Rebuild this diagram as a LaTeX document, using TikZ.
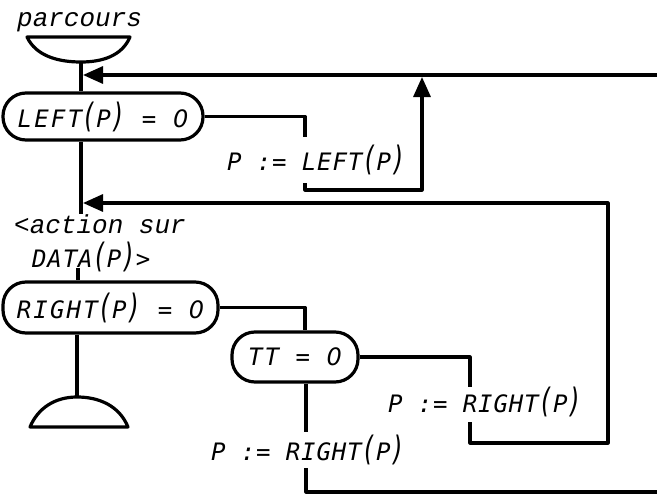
\documentclass[tikz,border=0pt]{standalone}
\usepackage{fontspec}
\usepackage{graphicx}
\usetikzlibrary{arrows.meta}
\newfontfamily\lblfamily{DejaVu Sans Mono}[LetterSpace=3.5]
\newfontfamily\boxfamily{DejaVu Sans Mono}[LetterSpace=9]
\newfontfamily\plainfamily{DejaVu Sans}
\newfontfamily\twfamily{Liberation Mono}
\newcommand{\lblfnt}{\lblfamily\itshape\fontsize{24}{27}\selectfont}
\newcommand{\boxfnt}{\boxfamily\itshape\fontsize{24}{27}\selectfont}
\newcommand{\lpar}{\scalebox{1}[1.4]{(}}
\newcommand{\rpar}{\scalebox{1}[1.4]{)}}
\newcommand{\zr}{{\plainfamily\itshape 0}}
\begin{document}
\begin{tikzpicture}[x=1pt,y=-1pt,
  flow/.style={line width=3.2pt, line join=round},
  arr/.style={-{Triangle[length=20pt,width=17pt]}},
  decision/.style={draw, line width=3.2pt, rounded corners=23pt, inner sep=0pt, font=\boxfnt},
  lbl/.style={inner sep=0pt, anchor=base west, font=\lblfnt},
  twlbl/.style={inner sep=0pt, anchor=base west}
]
\useasboundingbox (0,0) rectangle (657,496);
\clip (0,0) rectangle (657,496);

% terminals
\draw[flow] (27,37) -- (130,37) .. controls (122,56) and (102,62) .. (81,62)
  .. controls (58,62) and (36,56) .. (27,37) -- cycle;
\coordinate (topT) at (81,62);
\draw[flow] (30,427) -- (128,427) .. controls (119,405) and (98,397) .. (77,397)
  .. controls (55,397) and (38,408) .. (30,427) -- cycle;
\coordinate (botT) at (77,397);

% decision nodes
\node[decision, minimum width=200pt, minimum height=47pt] (left) at (103,116.5) {LEFT\lpar P\rpar{} = \zr};
\node[decision, minimum width=215pt, minimum height=51pt] (right) at (110.5,307.5) {RIGHT\lpar P\rpar{} = \zr};
\node[decision, minimum width=126pt, minimum height=50pt] (tt) at (295,357) {TT = \zr};

% texts
\node[twlbl, font=\twfamily\itshape\fontsize{26}{28}\selectfont] (parc) at (17,26) {parcours};
\node[twlbl, font=\twfamily\itshape\fontsize{26}{28}\selectfont] (act) at (14,233) {<action sur};
\node[lbl] (data) at (32,267) {DATA\lpar P\rpar>};
\node[lbl] (pl) at (227,170) {P := LEFT\lpar P\rpar};
\node[lbl] (pr1) at (388,412) {P := RIGHT\lpar P\rpar};
\node[lbl] (pr2) at (211,460) {P := RIGHT\lpar P\rpar};

% named coordinates
\coordinate (ta) at (83,75);
\coordinate (tr) at (657,75);
\coordinate (l1) at (305,137);
\coordinate (l2) at (305,183);
\coordinate (up) at (422,77);
\coordinate (m1) at (81,214);
\coordinate (ma) at (83,203);
\coordinate (r2) at (470,422);
\coordinate (d1) at (78,268);
\coordinate (t2) at (306,432);
\coordinate (t3) at (306,468);
\coordinate (br) at (657,492);

% connectors
\draw[flow] (topT) -- (left.north -| topT);
\draw[flow,arr] (tr) -- (ta);
\draw[flow] (left.east) -| (l1);
\draw[flow,arr] (l2) -- (305,190) -- (422,190) -- (up);
\draw[flow] (left.south -| topT) -- (m1);
\draw[flow,arr] (r2) -- (470,443) -- (608,443) -- (608,203) -- (ma);
\draw[flow] (d1) -- (right.north -| d1);
\draw[flow] (right.east) -| ([xshift=10pt]tt.north);
\draw[flow] (tt.east) -| (470,387);
\draw[flow] ([xshift=11pt]tt.south) -- (t2);
\draw[flow] (t3) -- (306,492) -- (br);
\draw[flow] (right.south -| botT) -- (botT);
\end{tikzpicture}
\end{document}
